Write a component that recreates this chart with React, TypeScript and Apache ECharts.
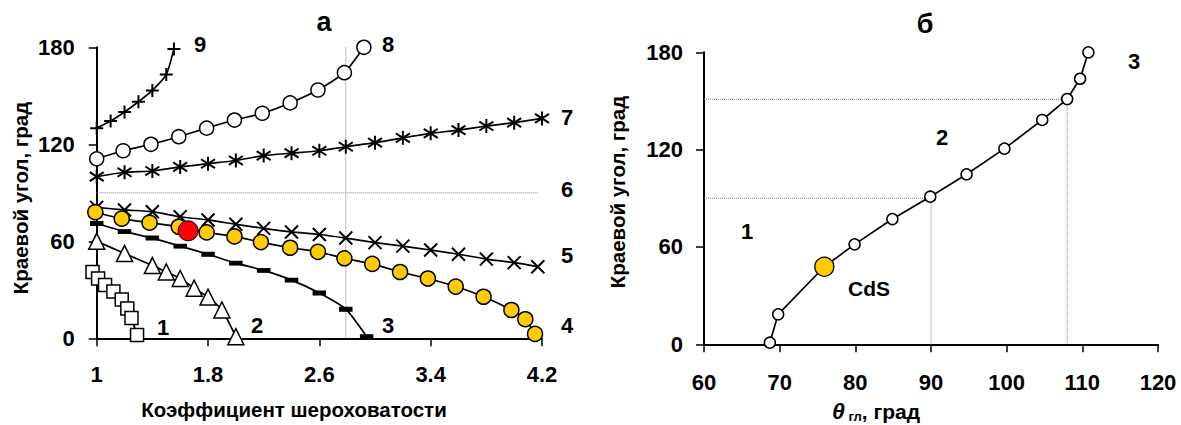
import React, { useEffect, useRef } from "react";
import * as echarts from "echarts";

// ---------- Panel "а" data ----------
const X_TICKS_A = [1, 1.8, 2.6, 3.4, 4.2];
const Y_TICKS = [0, 60, 120, 180];

const s1X = [0.97, 1.01, 1.06, 1.12, 1.18, 1.22, 1.25, 1.29];
const s1Y = [41, 37, 33, 29, 24, 18.5, 12.5, 2];

const s2X = [1.0, 1.2, 1.4, 1.5, 1.6, 1.7, 1.8, 1.9, 2.0];
const s2Y = [60, 52.5, 45, 41, 37, 31, 25.5, 17.5, 1];

const s3X = [1.0, 1.2, 1.4, 1.6, 1.8, 2.0, 2.2, 2.4, 2.6, 2.79, 2.94];
const s3Y = [71, 66, 62, 57, 52, 46.5, 42, 36, 28, 18, 1];

const s4X = [0.99, 1.18, 1.38, 1.59, 1.79, 1.99, 2.18, 2.39, 2.59, 2.78, 2.98, 3.18, 3.38, 3.58, 3.78, 3.98, 4.08, 4.15];
const s4Y = [78, 74, 71.5, 69, 65.5, 63, 59.5, 56, 53.5, 49.5, 46, 41, 37, 32, 25.7, 17.5, 11.8, 2.7];

const redX = [1.657];
const redY = [66.5];

const s5X = [1.0, 1.2, 1.4, 1.6, 1.8, 2.0, 2.2, 2.4, 2.6, 2.79, 3.0, 3.2, 3.4, 3.6, 3.8, 4.0, 4.17];
const s5Y = [81, 79.4, 78.3, 75.2, 73.2, 70.5, 68, 65.8, 64.2, 62, 59.2, 57, 54.6, 52, 49, 46.8, 44.3];

const s7X = [1.0, 1.2, 1.4, 1.6, 1.8, 2.0, 2.2, 2.4, 2.6, 2.79, 3.0, 3.2, 3.4, 3.6, 3.8, 4.0, 4.2];
const s7Y = [100, 102.7, 103.5, 106, 108, 110, 113, 114.5, 116, 118.5, 121, 124, 126.8, 128.8, 131.3, 133.4, 136];

const s8X = [1.0, 1.19, 1.39, 1.59, 1.79, 1.99, 2.19, 2.39, 2.59, 2.78, 2.92];
const s8Y = [111, 116, 120, 124.7, 130, 135, 139.2, 145.6, 153.6, 164.3, 180];

const s9X = [1.0, 1.1, 1.2, 1.3, 1.4, 1.5, 1.555];
const s9Y = [130, 134.4, 140, 146.3, 153.3, 163.2, 179];

const guideVA_X = [2.79, 2.79];
const guideVA_Y = [0, 180];
const guideHA_X = [1, 4.17];
const guideHA_Y = [90, 90];

// ---------- Panel "б" data ----------
const X_TICKS_B = [60, 70, 80, 90, 100, 110, 120];
const thetaX = [68.7, 69.8, 75.9, 79.9, 84.9, 89.9, 94.7, 99.7, 104.7, 108, 109.7, 110.8];
const thetaY = [1, 18.5, 47.8, 61.6, 77.2, 91, 104.8, 120.6, 138.3, 151.2, 163.7, 180];
const cdsX = [75.9];
const cdsY = [47.8];
const guideB1_X = [60, 90, 90];
const guideB1_Y = [90, 90, 0];
const guideB2_X = [60, 108, 108];
const guideB2_Y = [151, 151, 0];

const FONT = "Arial, 'Liberation Sans', sans-serif";
const YELLOW = "#FFCC00";

const zip = (xs: number[], ys: number[]) => xs.map((x, i) => [x, ys[i]]);

const PLUS = "path://M5,0L5,10M0,5L10,5";
const CROSS = "path://M0,0L10,10M0,10L10,0";
const STAR = "path://M5,0L5,10M0.6,1.8L9.4,8.2M0.6,8.2L9.4,1.8";

function markedLine(xs: number[], ys: number[], symbol: string, size: any, fill: string, idx: number, bw = 1.5, extra: any = {}) {
  return {
    type: "line",
    xAxisIndex: idx,
    yAxisIndex: idx,
    data: zip(xs, ys),
    symbol,
    symbolSize: size,
    showAllSymbol: true,
    smooth: 0.2,
    clip: false,
    silent: true,
    lineStyle: { color: "#000", width: 1.7 },
    itemStyle: { color: fill, borderColor: "#000", borderWidth: bw, opacity: 1 },
    emphasis: { disabled: true },
    ...extra,
  };
}

function guide(xs: number[], ys: number[], idx: number) {
  return {
    type: "line",
    xAxisIndex: idx,
    yAxisIndex: idx,
    data: zip(xs, ys),
    symbol: "none",
    silent: true,
    clip: false,
    lineStyle: { color: "#808080", width: 1, type: [1, 1] },
    z: 1,
  };
}

function axisCommon() {
  return {
    axisLine: { show: true, onZero: false, lineStyle: { color: "#000", width: 2 } },
    axisTick: { show: true, inside: false, length: 8, lineStyle: { color: "#000", width: 1.5 } },
    splitLine: { show: false },
  };
}

export default function App() {
  const ref = useRef<HTMLDivElement>(null);
  useEffect(() => {
    const chart = echarts.init(ref.current!, null, { renderer: "svg" });
    const labelStyle = { color: "#000", fontWeight: "bold", fontSize: 22, fontFamily: FONT };
    const txt = (text: string, x: number, y: number, size = 22, extra: any = {}) => ({
      type: "text",
      x,
      y,
      silent: true,
      style: { text, fill: "#000", font: `bold ${size}px ${FONT}`, align: "center", verticalAlign: "middle", ...extra },
    });
    chart.setOption({
      animation: false,
      backgroundColor: "#fff",
      grid: [
        { left: 96.7, right: 639, top: 47.3, bottom: 86.7 },
        { left: 704, right: 23, top: 52.3, bottom: 80.7 },
      ],
      xAxis: [
        {
          type: "value",
          gridIndex: 0,
          min: 1,
          max: 4.2,
          ...axisCommon(),
          axisTick: { show: true, length: 8, customValues: X_TICKS_A, lineStyle: { color: "#000", width: 1.5 } },
          axisLabel: { ...labelStyle, margin: 25, customValues: X_TICKS_A, showMinLabel: true, showMaxLabel: true },
        },
        {
          type: "value",
          gridIndex: 1,
          min: 60,
          max: 120,
          interval: 10,
          ...axisCommon(),
          axisLabel: { ...labelStyle, margin: 27 },
        },
      ],
      yAxis: [
        {
          type: "value",
          gridIndex: 0,
          min: 0,
          max: 180,
          interval: 60,
          ...axisCommon(),
          axisTick: { show: true, length: 8, customValues: Y_TICKS, lineStyle: { color: "#000", width: 1.5 } },
          axisLabel: { ...labelStyle, margin: 22, customValues: Y_TICKS },
        },
        {
          type: "value",
          gridIndex: 1,
          min: 0,
          max: 180,
          interval: 60,
          ...axisCommon(),
          axisLabel: { ...labelStyle, margin: 21 },
        },
      ],
      series: [
        guide(guideVA_X, guideVA_Y, 0),
        guide(guideHA_X, guideHA_Y, 0),
        markedLine(s1X, s1Y, "rect", 13, "#fff", 0),
        markedLine(s2X, s2Y, "triangle", 16, "#fff", 0),
        markedLine(s3X, s3Y, "rect", [11, 4], "#000", 0),
        markedLine(s5X, s5Y, CROSS, 13, "#000", 0, 2),
        markedLine(s4X, s4Y, "circle", 15, YELLOW, 0),
        {
          type: "scatter",
          xAxisIndex: 0,
          yAxisIndex: 0,
          data: zip(redX, redY),
          symbol: "circle",
          symbolSize: 20,
          silent: true,
          itemStyle: { color: "#FF0000", borderColor: "#000", borderWidth: 1, opacity: 1 },
          z: 5,
        },
        markedLine(s7X, s7Y, STAR, 14, "#000", 0, 2),
        markedLine(s8X, s8Y, "circle", 14, "#fff", 0),
        markedLine(s9X, s9Y, PLUS, 13, "#000", 0, 2),
        guide(guideB1_X, guideB1_Y, 1),
        guide(guideB2_X, guideB2_Y, 1),
        markedLine(thetaX, thetaY, "none", 0, "#fff", 1, 1.5, { symbol: "none", smooth: false }),
        {
          type: "scatter",
          xAxisIndex: 1,
          yAxisIndex: 1,
          data: zip(thetaX, thetaY).filter((p) => !(p[0] === cdsX[0] && p[1] === cdsY[0])),
          symbol: "circle",
          symbolSize: 11,
          silent: true,
          itemStyle: { color: "#fff", borderColor: "#000", borderWidth: 1.5, opacity: 1 },
          z: 4,
        },
        {
          type: "scatter",
          xAxisIndex: 1,
          yAxisIndex: 1,
          data: zip(cdsX, cdsY),
          symbol: "circle",
          symbolSize: 19,
          silent: true,
          itemStyle: { color: YELLOW, borderColor: "#000", borderWidth: 1.3, opacity: 1 },
          z: 5,
        },
      ],
      graphic: [
        txt("а", 324, 22, 27),
        txt("б", 925, 24, 27),
        txt("9", 200, 44),
        txt("8", 388, 44),
        txt("7", 567, 117),
        txt("6", 567, 189),
        txt("5", 567, 255),
        txt("4", 567, 325),
        txt("3", 388, 325),
        txt("2", 257, 325),
        txt("1", 163, 327),
        txt("3", 1134, 61),
        txt("2", 942, 137),
        txt("1", 747, 231),
        txt("CdS", 869, 288, 21),
        txt("Коэффициент шероховатости", 294, 409, 20.5),
        { ...txt("Краевой угол, град", 20, 198, 20.5), rotation: Math.PI / 2 },
        { ...txt("Краевой угол, град", 617, 192, 20.5), rotation: Math.PI / 2 },
        {
          type: "text",
          x: 876,
          y: 411,
          silent: true,
          style: {
            text: "{t|θ}{s| гл}{n|, град}",
            align: "center",
            verticalAlign: "middle",
            fill: "#000",
            rich: {
              t: { font: `italic bold 23px ${FONT}`, fill: "#000" },
              s: { font: `bold 13px ${FONT}`, fill: "#000", verticalAlign: "bottom", padding: [6, 0, 0, 0] },
              n: { font: `bold 21px ${FONT}`, fill: "#000" },
            },
          },
        },
      ],
    });
    return () => chart.dispose();
  }, []);
  return (
    <div
      ref={ref}
      style={{ position: "fixed", left: 0, top: 0, width: 1181, height: 425, background: "#fff" }}
    />
  );
}
